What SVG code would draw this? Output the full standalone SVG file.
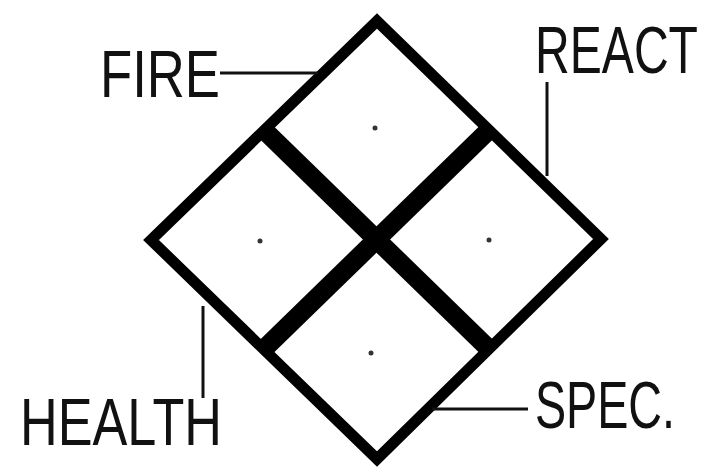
<svg xmlns="http://www.w3.org/2000/svg" width="707" height="473" viewBox="0 0 707 473">
<style>
.lbl{font-family:"Liberation Sans","DejaVu Sans",sans-serif;font-size:50px;fill:#111;}
.outer{fill:#fff;stroke:#000;stroke-width:11;stroke-linejoin:miter;}
.cross{stroke:#000;stroke-width:19;stroke-linecap:butt;}
.conn{stroke:#111;stroke-width:3;fill:none;}
.dot{fill:#333;}
</style>
<rect width="707" height="473" fill="#fff"/>
<g id="diamond">
<polygon class="outer" points="377,21 601,239 377,459 151,240"/>
<line class="cross" x1="264" y1="130" x2="489" y2="349"/>
<line class="cross" x1="489" y1="130" x2="264" y2="349"/>
<circle class="dot" cx="375" cy="128" r="2.5"/>
<circle class="dot" cx="260" cy="241" r="2.5"/>
<circle class="dot" cx="489" cy="240" r="2.5"/>
<circle class="dot" cx="371" cy="353" r="2.5"/>
</g>
<g id="connectors">
<line class="conn" x1="220" y1="73" x2="318" y2="73"/>
<line class="conn" x1="547" y1="82" x2="547" y2="176"/>
<line class="conn" x1="203" y1="306" x2="203" y2="398"/>
<line class="conn" x1="432" y1="409" x2="528" y2="409"/>
</g>
<g id="fire" transform="translate(100,97) scale(1,1.35)"><text class="lbl" x="0" y="0" textLength="120" lengthAdjust="spacingAndGlyphs">FIRE</text></g>
<g id="react" transform="translate(535,73) scale(1,1.35)"><text class="lbl" x="0" y="0" textLength="163" lengthAdjust="spacingAndGlyphs">REACT</text></g>
<g id="health" transform="translate(20,445) scale(1,1.35)"><text class="lbl" x="0" y="0" textLength="202" lengthAdjust="spacingAndGlyphs">HEALTH</text></g>
<g id="spec" transform="translate(535,428) scale(1,1.35)"><text class="lbl" x="0" y="0" textLength="140" lengthAdjust="spacingAndGlyphs">SPEC.</text></g>
</svg>
